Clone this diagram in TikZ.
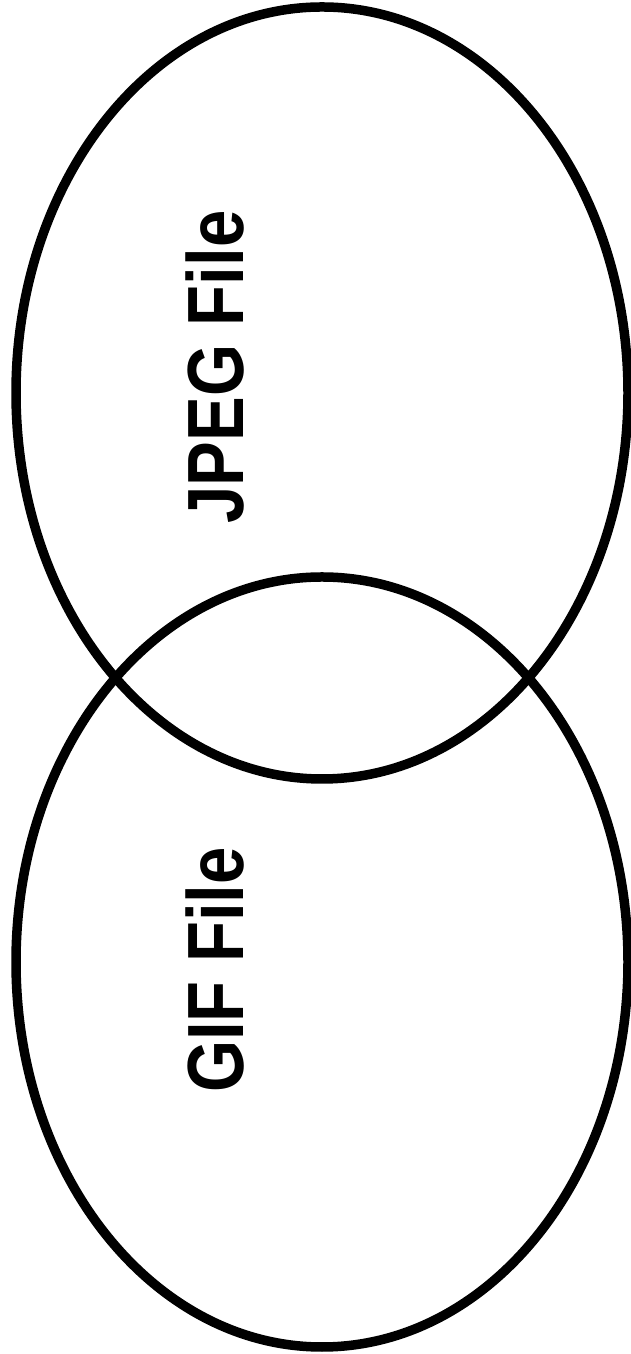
\documentclass[tikz,border=0pt]{standalone}
\usepackage{fontspec}
\setmainfont{Liberation Sans}
\begin{document}
\begin{tikzpicture}[x=1pt,y=1pt,
  venn/.style={draw=black,line width=9.5pt},
  lbl/.style={font=\fontsize{67}{70}\selectfont\bfseries,rotate=90,anchor=base,inner sep=0pt}]
\useasboundingbox (0,0) rectangle (630,1354);
\draw[venn] (322,961) ellipse [x radius=306, y radius=386];
\draw[venn] (322,392) ellipse [x radius=306, y radius=385];
\node[lbl] (jpeg) at (243,987) {\scalebox{1}[1.19]{JPEG File}};
\node[lbl] (gif) at (243,384) {\scalebox{1}[1.19]{GIF File}};
\end{tikzpicture}
\end{document}
